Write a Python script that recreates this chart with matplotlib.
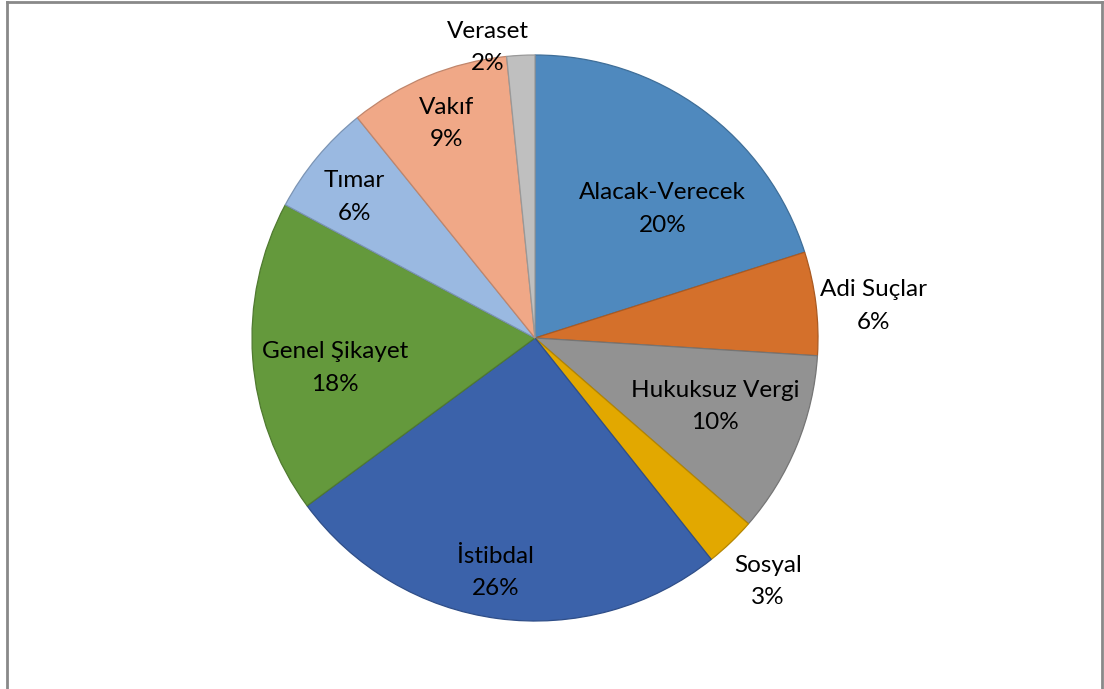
#!/usr/bin/env python3
"""Pie chart: distribution of complaint categories"""

import matplotlib
matplotlib.use("Agg")
import matplotlib.pyplot as plt
import matplotlib.colors as mcolors
from matplotlib.lines import Line2D
import numpy as np

# data (clockwise from top)
categories = ["Alacak-Verecek", "Adi Suçlar", "Hukuksuz Vergi", "Sosyal", "İstibdal",
              "Genel Şikayet", "Tımar", "Vakıf", "Veraset"]
shares = [20.1, 5.9, 10.4, 2.9, 25.6, 17.9, 6.4, 9.2, 1.6]
pct_labels = ["20%", "6%", "10%", "3%", "26%", "18%", "6%", "9%", "2%"]

colors = ["#4F89BE", "#D4702B", "#929292", "#E2A800", "#3B62AA",
          "#64993C", "#9AB9E1", "#F0A887", "#BFBFBF"]

# label placement (fraction of radius, angle tweak in degrees)
label_dist = [0.64, 1.20, 0.68, 1.19, 0.84, 0.715, 0.81, 0.82, 1.04]
label_shift = [-8.5, -1.6, 1.4, 0.0, -2.0, 4.4, 1.7, 0.0, 6.4]

W, H = 1104, 689
fig = plt.figure(figsize=(W / 100, H / 100), dpi=100)
ax = fig.add_axes([0, 0, 1, 1])

cx, cy, R = 535, H - 338, 283

wedges, _ = ax.pie(shares, colors=colors, startangle=90, counterclock=False,
                   center=(cx, cy), radius=R, frame=True)
ax.set_xlim(0, W)
ax.set_ylim(0, H)
ax.set_aspect("equal")
ax.axis("off")

for w, c in zip(wedges, colors):
    dark = np.array(mcolors.to_rgb(c)) * 0.8
    w.set_edgecolor(dark)
    w.set_linewidth(0.9)

for w, name, pct, d, s in zip(wedges, categories, pct_labels, label_dist, label_shift):
    ang = np.deg2rad((w.theta1 + w.theta2) / 2 + s)
    x = cx + d * R * np.cos(ang)
    y = cy + d * R * np.sin(ang)
    ax.text(x, y, f"{name}\n{pct}", ha="center", va="center", fontsize=17.5,
            family="Lato", linespacing=1.68, color="black")

# chart area border (bottom edge is cropped in the reference)
frame_kw = dict(color="#898989", linewidth=2.0, transform=fig.transFigure)
fig.add_artist(Line2D([7 / W, 7 / W], [-0.1, 1 - 2 / H], **frame_kw))
fig.add_artist(Line2D([7 / W, 1102 / W], [1 - 2 / H, 1 - 2 / H], **frame_kw))
fig.add_artist(Line2D([1102 / W, 1102 / W], [-0.1, 1 - 2 / H], **frame_kw))

plt.savefig("out.png", dpi=100)
